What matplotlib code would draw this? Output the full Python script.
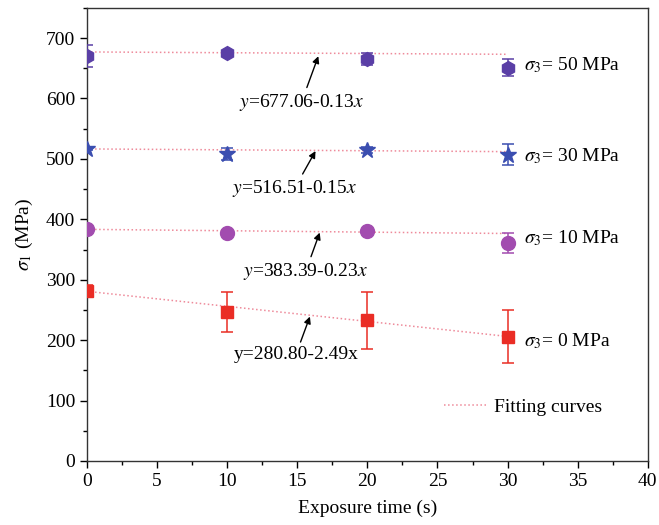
import matplotlib
matplotlib.use("Agg")
import matplotlib.pyplot as plt
from matplotlib.ticker import MultipleLocator
import numpy as np

plt.rcParams['font.family'] = ['Liberation Serif', 'DejaVu Serif']
plt.rcParams['mathtext.fontset'] = 'stix'

# exposure time (s)
time = [0, 10, 20, 30]

# sigma_1 (MPa) for each confining pressure
s50 = [670, 675, 666, 651]
s50_err = [18, 3, 10, 14]
s30 = [517, 508, 515, 507]
s30_err = [3, 10, 5, 17]
s10 = [384, 377, 381, 361]
s10_err = [5, 5, 3, 17]
s0 = [281, 246, 233, 206]
s0_err = [10, 33, 47, 44]

# fitted lines: intercept, slope
fits = [(677.06, -0.13), (516.51, -0.15), (383.39, -0.23), (280.80, -2.49)]
fit_labels = [r'$y$=677.06-0.13$x$', r'$y$=516.51-0.15$x$',
              r'$y$=383.39-0.23$x$', 'y=280.80-2.49x']
series_labels = [r'$\sigma_3$= 50 MPa', r'$\sigma_3$= 30 MPa',
                 r'$\sigma_3$= 10 MPa', r'$\sigma_3$= 0 MPa']

fig = plt.figure(figsize=(6.59, 5.25), dpi=100)
ax = fig.add_axes([0.132, 0.122, 0.851, 0.863])

fit_color = '#ee8a9a'
xs = np.array([0, 30])
for i, (b, k) in enumerate(fits):
    ax.plot(xs, b + k * xs, ls=':', lw=1.1, color=fit_color,
            label='Fitting curves' if i == 0 else None, zorder=1)

styles = [
    (s50, s50_err, 'h', '#5a3fa6', 10),
    (s30, s30_err, '*', '#3b4eb0', 12),
    (s10, s10_err, 'o', '#a24caf', 10),
    (s0, s0_err, 's', '#ea2d25', 9),
]
for vals, err, mk, col, ms in styles:
    ax.errorbar(time, vals, yerr=err, fmt=mk, color=col, ms=ms, mec=col,
                ecolor=col, elinewidth=1.1, capsize=4, capthick=1.1, zorder=3)

# series labels on the right
label_y = [655, 505, 369, 199]
for txt, yy in zip(series_labels, label_y):
    ax.text(31.2, yy, txt, fontsize=14, va='center', ha='left')

# equation annotations with arrows
ann_text = [(15.3, 594), (14.8, 451), (15.6, 314), (14.9, 176)]
ann_tip = [(16.5, 670), (16.3, 513), (16.6, 378), (15.9, 239)]
for txt, (tx, ty), (hx, hy) in zip(fit_labels, ann_text, ann_tip):
    ax.annotate(txt, xy=(hx, hy), xytext=(tx, ty), fontsize=14,
                ha='center', va='center',
                arrowprops=dict(arrowstyle='-|>', color='black', lw=1,
                                mutation_scale=10, shrinkA=1, shrinkB=0))

ax.set_xlim(0, 40)
ax.set_ylim(0, 750)
ax.xaxis.set_major_locator(MultipleLocator(5))
ax.xaxis.set_minor_locator(MultipleLocator(2.5))
ax.yaxis.set_major_locator(MultipleLocator(100))
ax.yaxis.set_minor_locator(MultipleLocator(50))
ax.tick_params(which='both', direction='out', top=False, right=False,
               labelsize=14, width=1)
ax.tick_params(which='major', length=5)
ax.tick_params(which='minor', length=3)
for sp in ax.spines.values():
    sp.set_linewidth(1)
    sp.set_color('#333333')

ax.set_xlabel('Exposure time (s)', fontsize=14, labelpad=7)
ax.set_ylabel(r'$\sigma_1$ (MPa)', fontsize=14, labelpad=8)

ax.legend(loc='lower right', bbox_to_anchor=(0.95, 0.06), frameon=False,
          fontsize=14, handlelength=2.2, handletextpad=0.4)

fig.savefig('out.png', dpi=100)
